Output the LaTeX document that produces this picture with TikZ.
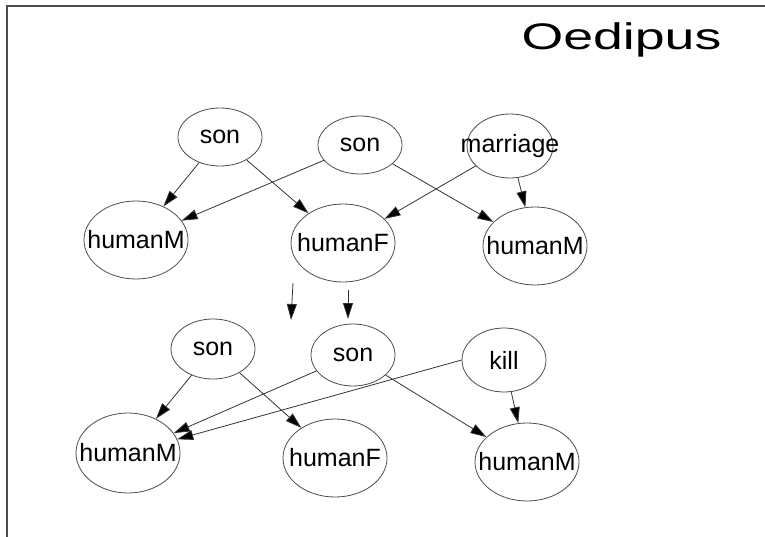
\documentclass[tikz,border=0pt]{standalone}
\usepackage{fontspec}
\setmainfont{Liberation Sans}
\usetikzlibrary{shapes.geometric,arrows.meta}
\newcommand{\nlabel}[1]{\makebox[0pt]{#1}}

\begin{document}
\begin{tikzpicture}[x=1pt, y=-1pt,
		rel/.style={ellipse, draw=black!70, line width=.8pt, inner sep=0pt,
			minimum width=84pt, minimum height=58pt, font=\fontsize{25}{29}\selectfont},
		obj/.style={rel, minimum width=104pt, minimum height=78pt},
		link/.style={draw=black!80, line width=.8pt, -{Triangle[length=16pt,width=10pt,fill=black]}}]
	\useasboundingbox (0,0) rectangle (765,537);
	\draw[black!70, line width=1.5pt] (7,537) -- (7,6) -- (765,6);
	\node[anchor=base] (title) at (621.5,50)
		{\scalebox{1.45}[1]{\fontsize{37}{42}\selectfont Oedipus}};
	% first scene
	\node[rel] (son1) at (220,137) {\nlabel{son}};
	\node[rel] (son2) at (360,145) {\nlabel{son}};
	\node[rel, minimum width=86pt, minimum height=64pt] (marriage) at (510,146) {\nlabel{marriage}};
	\node[obj] (hm1) at (136,240) {\nlabel{humanM}};
	\node[obj] (hf1) at (343,243) {\nlabel{humanF}};
	\node[obj] (hm2) at (535,246) {\nlabel{humanM}};
	\draw[link] (son1) -- (hm1);
	\draw[link] (son1) -- (hf1);
	\draw[link] (son2) -- (hm1);
	\draw[link] (son2) -- (hm2);
	\draw[link] (marriage) -- (hf1);
	\draw[link] (marriage) -- (hm2);
	% arrows between the scenes
	\coordinate (d1a) at (293,283);
	\coordinate (d1b) at (291,320);
	\coordinate (d2a) at (348,290);
	\coordinate (d2b) at (348,319);
	\draw[link] (d1a) -- (d1b);
	\draw[link] (d2a) -- (d2b);
	% second scene
	\node[rel, minimum height=60pt] (son3) at (213,349) {\nlabel{son}};
	\node[rel, minimum height=62pt] (son4) at (353,355) {\nlabel{son}};
	\node[rel, minimum height=64pt] (kill) at (504,360) {\nlabel{kill}};
	\node[obj, minimum height=80pt] (hm3) at (128,453) {\nlabel{humanM}};
	\node[obj] (hf2) at (335,458) {\nlabel{humanF}};
	\node[obj] (hm4) at (527,462) {\nlabel{humanM}};
	\draw[link] (son3) -- (hm3);
	\draw[link] (son3) -- (hf2);
	\draw[link] (son4) -- (hm3);
	\draw[link] (son4) -- (hm4);
	\draw[link] (kill.west) -- (hm3);
	\draw[link] (kill) -- (hm4);
\end{tikzpicture}
\end{document}
